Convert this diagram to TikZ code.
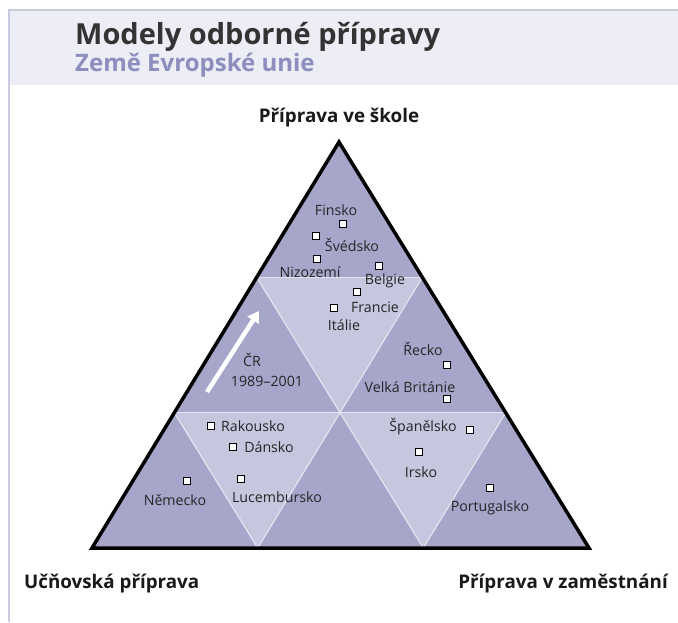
\documentclass[tikz,border=0pt]{standalone}
\usepackage{fontspec}
\setmainfont{Open Sans}
\usetikzlibrary{calc,arrows.meta}
\definecolor{bandgrey}{HTML}{ECEDF5}
\definecolor{framelav}{HTML}{C9C9E0}
\definecolor{titlegrey}{HTML}{333333}
\definecolor{sublav}{HTML}{8C8EBE}
\definecolor{darklav}{HTML}{A5A6CA}
\definecolor{lightlav}{HTML}{C6C6DF}
\definecolor{gridwhite}{HTML}{E4E4F0}
\tikzset{
  country/.style={font=\fontsize{14.2}{16}\selectfont, text=black!85, inner sep=0pt},
  corner/.style={font=\bfseries\fontsize{18.8}{21}\selectfont, text=black!90, inner sep=0pt},
  marker/.style={draw=black, fill=white, line width=1.3pt, minimum size=7pt, inner sep=0pt},
  gridline/.style={draw=gridwhite, line width=1.2pt}
}
\begin{document}
\begin{tikzpicture}[x=1pt,y=-1pt]
\useasboundingbox (0,0) rectangle (678,622);
% header
\fill[bandgrey] (9,10) rectangle (678,85);
\draw[framelav, line width=2pt] (9,622) -- (9,10) -- (678,10);
\node[anchor=base west, inner sep=0pt, text=titlegrey, font=\bfseries\fontsize{29}{32}\selectfont] (title) at (75,44) {Modely odborné přípravy};
\node[anchor=base west, inner sep=0pt, text=sublav, font=\bfseries\fontsize{24}{26}\selectfont] (subtitle) at (75,71) {Země Evropské unie};
% triangle corners and grid points
\coordinate (top) at (339,142);
\coordinate (left) at (92,548);
\coordinate (right) at (589,548);
\coordinate (l1) at ($(top)!1/3!(left)$);
\coordinate (l2) at ($(top)!2/3!(left)$);
\coordinate (r1) at ($(top)!1/3!(right)$);
\coordinate (r2) at ($(top)!2/3!(right)$);
\coordinate (b1) at ($(left)!1/3!(right)$);
\coordinate (b2) at ($(left)!2/3!(right)$);
\coordinate (mid) at ($(l2)!0.5!(r2)$);
\fill[darklav] (top) -- (left) -- (right) -- cycle;
\fill[lightlav] (l1) -- (r1) -- (mid) -- cycle;
\fill[lightlav] (l2) -- (mid) -- (b1) -- cycle;
\fill[lightlav] (mid) -- (r2) -- (b2) -- cycle;
\draw[gridline] (l1) -- (r1);
\draw[gridline] (l2) -- (r2);
\draw[gridline] (r1) -- (b1);
\draw[gridline] (r2) -- (b2);
\draw[gridline] (l1) -- (b2);
\draw[gridline] (l2) -- (b1);
\draw[line width=3.5pt, line join=miter] (top) -- (left) -- (right) -- cycle;
% corner labels
\node[corner] (school) at (339,118) {Příprava ve škole};
\node[corner, anchor=west] (apprentice) at (24,584) {Učňovská příprava};
\node[corner, anchor=east] (work) at (668,584) {Příprava v zaměstnání};
% Czech path
\coordinate (crtail) at (207,392);
\coordinate (crtip) at (259,311);
\draw[white, line width=4.5pt, -{Triangle[length=11pt,width=13pt]}] (crtail) -- (crtip);
\node[country] (cr) at (252,360) {ČR};
\node[country] (cryears) at (267,381) {1989–2001};
% countries
\node[country] (finsko) at (336,210) {Finsko};
\node[marker] (finskobox) at (343,224) {};
\node[country] (svedsko) at (352,245) {Švédsko};
\node[marker] (svedskobox) at (316,236) {};
\node[country] (nizozemi) at (310,272) {Nizozemí};
\node[marker] (nizozemibox) at (317,259) {};
\node[country] (belgie) at (385,281) {Belgie};
\node[marker] (belgiebox) at (379,266) {};
\node[country] (francie) at (375,307) {Francie};
\node[marker] (franciebox) at (357,292) {};
\node[country] (italie) at (344,325) {Itálie};
\node[marker] (italiebox) at (334,308) {};
\node[country] (recko) at (423,349) {Řecko};
\node[marker] (reckobox) at (447,365) {};
\node[country] (britanie) at (410,387) {Velká Británie};
\node[marker] (britaniebox) at (447,399) {};
\node[country] (rakousko) at (253,426) {Rakousko};
\node[marker] (rakouskobox) at (211,426) {};
\node[country] (dansko) at (269,447) {Dánsko};
\node[marker] (danskobox) at (233,447) {};
\node[country] (lucembursko) at (277,497) {Lucembursko};
\node[marker] (lucemburskobox) at (241,479) {};
\node[country] (nemecko) at (175,500) {Německo};
\node[marker] (nemeckobox) at (187,481) {};
\node[country] (spanelsko) at (423,427) {Španělsko};
\node[marker] (spanelskobox) at (470,430) {};
\node[country] (irsko) at (421,472) {Irsko};
\node[marker] (irskobox) at (419,452) {};
\node[country] (portugalsko) at (490,508) {Portugalsko};
\node[marker] (portugalskobox) at (490,488) {};
\end{tikzpicture}
\end{document}
